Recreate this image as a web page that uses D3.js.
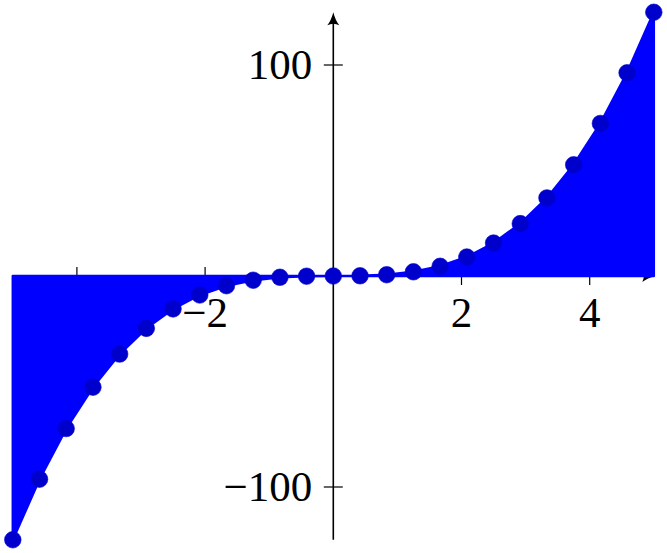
<!DOCTYPE html>
<html><head><meta charset="utf-8">
<script src="https://cdn.jsdelivr.net/npm/d3@7"></script>
<style>body{margin:0;background:#fff}svg{display:block}
text{font-family:"Liberation Serif","Times New Roman","DejaVu Serif",serif;font-size:43px}</style>
</head><body>
<svg id="c" width="667" height="553"></svg>
<script>
const xValues = [-5, -4.583, -4.167, -3.75, -3.333, -2.917, -2.5, -2.083, -1.667, -1.25, -0.833, -0.417, 0, 0.417, 0.833, 1.25, 1.667, 2.083, 2.5, 2.917, 3.333, 3.75, 4.167, 4.583, 5];
const yValues = [-125, -96.3, -72.3, -52.7, -37.0, -24.8, -15.6, -9.0, -4.6, -2.0, -0.6, -0.1, 0, 0.1, 0.6, 2.0, 4.6, 9.0, 15.6, 24.8, 37.0, 52.7, 72.3, 96.3, 125];
const xTicks = [-4, -2, 2, 4];
const yTicks = [-100, 100];

const data = xValues.map((x, i) => ({x, y: yValues[i]}));
const svg = d3.select("#c");
const x = d3.scaleLinear().domain([-5, 5]).range([12.8, 653.8]);
const y = d3.scaleLinear().domain([-125, 125]).range([539.75, 12.25]);

// axes
const ax = svg.append("g").attr("stroke", "#000").attr("stroke-width", 1.6);
ax.append("line").attr("x1", x(-5)).attr("x2", x(5) - 4).attr("y1", y(0)).attr("y2", y(0));
ax.append("line").attr("x1", x(0)).attr("x2", x(0)).attr("y1", y(-125)).attr("y2", y(125) + 4);
// arrowheads
svg.append("path").attr("fill", "#000")
  .attr("d", `M${x(0)},${y(125)} Q${x(0)+2},${y(125)+8} ${x(0)+6},${y(125)+13} Q${x(0)},${y(125)+10} ${x(0)-6},${y(125)+13} Q${x(0)-2},${y(125)+8} ${x(0)},${y(125)} Z`);
svg.append("path").attr("fill", "#000")
  .attr("d", `M${x(5)+1.5},${y(0)} Q${x(5)-6.5},${y(0)+2} ${x(5)-11.5},${y(0)+6} Q${x(5)-8.5},${y(0)} ${x(5)-11.5},${y(0)-6} Q${x(5)-6.5},${y(0)-2} ${x(5)+1.5},${y(0)} Z`);

// ticks
xTicks.forEach(t => {
  svg.append("line").attr("stroke", "#000").attr("stroke-width", 1.2)
    .attr("x1", x(t)).attr("x2", x(t)).attr("y1", y(0) - 9).attr("y2", y(0) + 9);
  svg.append("text").attr("x", x(t)).attr("y", y(0) + 51)
    .attr("text-anchor", "middle")
    .text(t < 0 ? "\u2212" + Math.abs(t) : String(t));
});
yTicks.forEach(t => {
  svg.append("line").attr("stroke", "#000").attr("stroke-width", 1.2)
    .attr("x1", x(0) - 9.5).attr("x2", x(0) + 9.5).attr("y1", y(t)).attr("y2", y(t));
  svg.append("text").attr("x", x(0) - 21).attr("y", y(t) + 14)
    .attr("text-anchor", "end")
    .text(t < 0 ? "\u2212" + Math.abs(t) : String(t));
});

// filled area (closed cycle)
const pts = data.map(d => [x(d.x), y(d.y)]);
pts.push([x(5), y(0)], [x(-5), y(0)]);
svg.append("path").attr("d", d3.line()(pts) + "Z")
  .attr("fill", "#0000ff").attr("stroke", "#0000ff").attr("stroke-width", 2.5).attr("stroke-linejoin", "round");

// markers
svg.append("g").selectAll("circle").data(data).join("circle")
  .attr("cx", d => x(d.x)).attr("cy", d => y(d.y)).attr("r", 8.3)
  .attr("fill", "#0000cc").attr("stroke", "#0000cc").attr("stroke-width", 0.6);
</script>
</body></html>
